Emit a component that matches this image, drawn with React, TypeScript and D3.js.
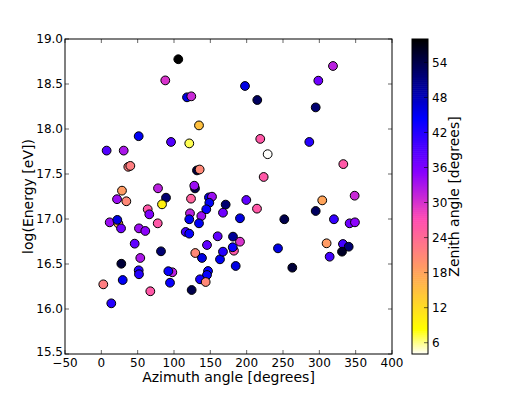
import React from "react";
import * as d3 from "d3";

const azimuth = [
  105.9, 88.0, 117.9, 123.8, 134.4, 51.4, 95.9, 121.0, 7.3, 30.8,
  37.1, 39.9, 131.6, 135.3, 197.7, 214.6, 298.6, 318.8, 295.0, 218.7,
  286.2, 228.9, 333.0, 223.4, 78.0, 128.9, 127.9, 89.0, 21.6, 28.4,
  34.4, 83.5, 123.4, 148.1, 152.3, 148.6, 171.1, 144.4, 167.4, 190.8,
  63.8, 66.0, 77.6, 122.0, 121.0, 137.6, 134.4, 11.5, 23.4, 22.0,
  27.1, 51.8, 60.5, 45.9, 53.6, 82.1, 27.5, 51.4, 51.8, 29.4,
  2.7, 67.4, 97.7, 92.2, 94.5, 116.1, 121.0, 145.4, 129.3, 138.5,
  146.8, 145.4, 135.8, 143.6, 124.3, 163.3, 167.4, 160.1, 181.2, 182.5,
  180.8, 184.9, 190.8, 199.5, 214.2, 251.8, 295.0, 304.0, 348.6, 320.1,
  341.7, 349.0, 243.1, 262.8, 310.0, 332.5, 340.4, 331.2, 314.2, 13.7,
];
const logEnergy = [
  18.775, 18.54, 18.352, 18.363, 18.04, 17.92, 17.856, 17.84, 17.76, 17.76,
  17.58, 17.59, 17.54, 17.55, 18.478, 18.322, 18.537, 18.7, 18.24, 17.89,
  17.856, 17.72, 17.61, 17.467, 17.341, 17.34, 17.37, 17.237, 17.22, 17.315,
  17.197, 17.163, 17.226, 17.24, 17.248, 17.18, 17.16, 17.108, 17.07, 17.008,
  17.108, 17.052, 16.952, 17.063, 16.997, 17.033, 16.952, 16.963, 16.95, 16.99,
  16.896, 16.896, 16.867, 16.726, 16.567, 16.641, 16.503, 16.43, 16.386, 16.322,
  16.274, 16.197, 16.408, 16.42, 16.292, 16.856, 16.837, 16.711, 16.622, 16.567,
  16.422, 16.378, 16.33, 16.3, 16.211, 16.552, 16.637, 16.808, 16.804, 16.648,
  16.686, 16.478, 16.748, 17.211, 17.115, 16.997, 17.089, 17.207, 17.259, 16.997,
  16.952, 16.963, 16.674, 16.459, 16.73, 16.722, 16.692, 16.637, 16.581, 16.063,
];
const zenith = [
  58.0, 30, 46, 31, 15, 45, 39, 7, 39, 33,
  22, 22, 55, 21, 46, 53, 37, 32, 52, 26,
  42, 4.1, 26, 26, 32, 54, 34, 52, 34, 19,
  21, 10, 25, 46, 34, 45, 52, 44, 37, 46,
  26, 36, 26, 32, 45, 34, 45, 34, 16, 46,
  37, 34, 35, 38, 33, 52, 55, 42, 42, 45,
  22, 26, 32, 44, 44, 40, 44, 38, 21, 46,
  44, 44, 43, 21, 54, 45, 42, 38, 50, 26,
  44, 46, 30, 38, 26, 54, 53, 18, 31, 41,
  37, 35, 46, 55, 19, 40, 52, 56, 40, 42,
];

const xTicks = [-50, 0, 50, 100, 150, 200, 250, 300, 350, 400];
const yTicks = [15.5, 16.0, 16.5, 17.0, 17.5, 18.0, 18.5, 19.0];
const cbTicks = [6, 12, 18, 24, 30, 36, 42, 48, 54];

const zMin = 4.07;
const zMax = 58.0;

function clip(v: number) {
  return Math.max(0, Math.min(1, v));
}
// matplotlib gnuplot2 colormap, reversed
function gnuplot2r(t: number) {
  const x = 1 - clip(t);
  const r = clip(x / 0.32 - 0.78125);
  const g = clip(2 * x - 0.84);
  let b: number;
  if (x < 0.25) b = 4 * x;
  else if (x < 0.42) b = 1;
  else if (x < 0.92) b = -2 * x + 1.84;
  else b = x / 0.08 - 11.5;
  b = clip(b);
  return d3.rgb(r * 255, g * 255, b * 255).formatHex();
}

const L = 65, R = 392, T = 39, B = 354;
const CBL = 412, CBR = 428;
const font = "DejaVu Sans, sans-serif";

export default function App() {
  const x = d3.scaleLinear().domain([-50, 400]).range([L, R]);
  const y = d3.scaleLinear().domain([15.5, 19.0]).range([B, T]);
  const cz = d3.scaleLinear().domain([zMin, zMax]).range([B, T]);
  const norm = d3.scaleLinear().domain([zMin, zMax]).range([0, 1]).clamp(true);

  const nSteps = 160;
  const steps = d3.range(nSteps).map((i) => zMin + ((zMax - zMin) * i) / nSteps);
  const stepH = (B - T) / nSteps;

  const tickLen = 4;

  return (
    <svg
      width={526}
      height={394}
      style={{ position: "absolute", left: 0, top: 0, background: "#fff" }}
      fontFamily={font}
    >
      <rect x={0} y={0} width={526} height={394} fill="#fff" />
      {/* points */}
      {azimuth.map((a, i) => (
        <circle
          key={i}
          cx={x(a)}
          cy={y(logEnergy[i])}
          r={4.4}
          fill={gnuplot2r(norm(zenith[i]))}
          stroke="#000"
          strokeWidth={1}
        />
      ))}
      {/* axes frame */}
      <rect x={L} y={T} width={R - L} height={B - T} fill="none" stroke="#000" strokeWidth={1} />
      {xTicks.map((t) => (
        <g key={"x" + t}>
          <line x1={x(t)} x2={x(t)} y1={B} y2={B - tickLen} stroke="#000" strokeWidth={0.6} />
          <line x1={x(t)} x2={x(t)} y1={T} y2={T + tickLen} stroke="#000" strokeWidth={0.6} />
          <text x={x(t)} y={B + 13} fontSize={12} textAnchor="middle" fill="#000">
            {t < 0 ? "\u2212" + Math.abs(t) : t}
          </text>
        </g>
      ))}
      {yTicks.map((t) => (
        <g key={"y" + t}>
          <line x1={L} x2={L + tickLen} y1={y(t)} y2={y(t)} stroke="#000" strokeWidth={0.6} />
          <line x1={R} x2={R - tickLen} y1={y(t)} y2={y(t)} stroke="#000" strokeWidth={0.6} />
          <text
            x={L - 2}
            y={t === 15.5 ? y(t) - 2 : y(t)}
            dy="0.36em"
            fontSize={12}
            textAnchor="end"
            fill="#000"
          >
            {t.toFixed(1)}
          </text>
        </g>
      ))}
      <text x={(L + R) / 2} y={382} fontSize={14} textAnchor="middle" fill="#000">
        Azimuth angle [degrees]
      </text>
      <text
        transform={`translate(33,${(T + B) / 2}) rotate(-90)`}
        fontSize={14}
        textAnchor="middle"
        fill="#000"
      >
        log(Energy [eV])
      </text>
      {/* colorbar */}
      {steps.map((s, i) => (
        <rect
          key={"c" + i}
          x={CBL}
          y={B - (i + 1) * stepH}
          width={CBR - CBL}
          height={stepH + 0.6}
          fill={gnuplot2r(norm(s + (zMax - zMin) / nSteps / 2))}
        />
      ))}
      <rect x={CBL} y={T} width={CBR - CBL} height={B - T} fill="none" stroke="#000" strokeWidth={1} />
      {cbTicks.map((t) => (
        <g key={"cb" + t}>
          <line x1={CBR} x2={CBR - tickLen} y1={cz(t)} y2={cz(t)} stroke="#000" strokeWidth={0.6} />
          <text x={CBR + 4} y={cz(t)} dy="0.36em" fontSize={12} fill="#000">
            {t}
          </text>
        </g>
      ))}
      <text
        transform={`translate(459,${(T + B) / 2}) rotate(-90)`}
        fontSize={14}
        textAnchor="middle"
        fill="#000"
      >
        Zenith angle [degrees]
      </text>
    </svg>
  );
}
